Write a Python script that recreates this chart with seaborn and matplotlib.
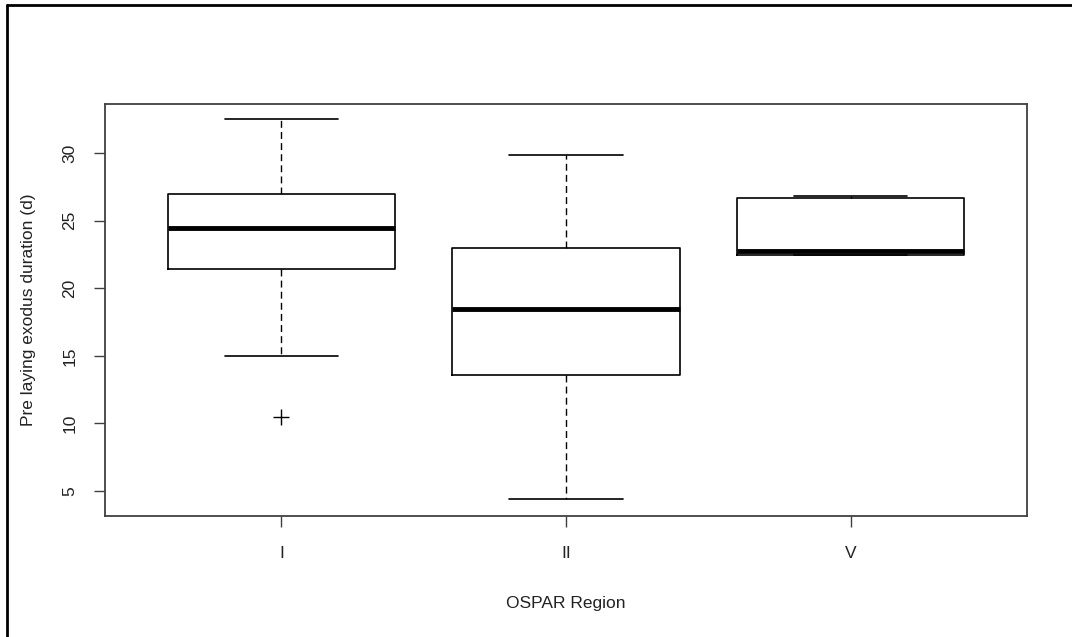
import matplotlib
matplotlib.use("Agg")
import matplotlib.pyplot as plt
import seaborn as sns
import pandas as pd
from matplotlib.lines import Line2D

# Data
regions = ["I", "II", "V"]
values_I = [10.5, 15.0, 21.4, 23.0, 24.45, 25.5, 27.0, 30.0, 32.5]
values_II = [4.4, 13.6, 18.45, 23.0, 29.85]
values_V = [22.45, 22.45, 22.75, 26.7, 26.8]
y_ticks = [5, 10, 15, 20, 25, 30]

df = pd.DataFrame({
    "region": ["I"] * len(values_I) + ["II"] * len(values_II) + ["V"] * len(values_V),
    "value": values_I + values_II + values_V,
})

sns.set_theme(style="white")
plt.rcParams["font.family"] = ["Liberation Sans", "DejaVu Sans"]

fig = plt.figure(figsize=(10.72, 6.37), dpi=100)
ax = fig.add_axes([105 / 1072, 1 - 516 / 637, (1027 - 105) / 1072, (516 - 104) / 637])

sns.boxplot(
    data=df, x="region", y="value", order=regions, ax=ax,
    fill=False, color="black", width=0.8, whis=1.5,
    linewidth=1.2,
    boxprops=dict(color="black", linewidth=1.2),
    whiskerprops=dict(color="black", linestyle=(0, (5, 3)), linewidth=1.0),
    capprops=dict(color="black", linewidth=1.2),
    medianprops=dict(color="black", linewidth=3.5, solid_capstyle="butt"),
    flierprops=dict(marker="+", markersize=11, markeredgecolor="black",
                    markeredgewidth=1.0, linestyle="none"),
    capwidths=0.4,
)

ax.set_xlim(-0.62, 2.62)
ax.set_ylim(3.15, 33.62)
ax.set_yticks(y_ticks)
ax.set_yticklabels([str(t) for t in y_ticks], rotation=90, va="center")
ax.set_xlabel("OSPAR Region", fontsize=12.5, color="#222222", labelpad=25.5)
ax.set_ylabel("Pre laying exodus duration (d)", fontsize=12.5, color="#222222", labelpad=19)

for s in ax.spines.values():
    s.set_visible(True)
    s.set_color("#404040")
    s.set_linewidth(1.3)

ax.tick_params(axis="both", which="major", direction="out", length=8, width=1.0,
               color="#404040", labelsize=12.5, labelcolor="#222222",
               left=True, bottom=True, pad=12)
ax.tick_params(axis="x", pad=13.5)

# outer frame (left and top edges of the cropped figure border)
fig.add_artist(Line2D([7 / 1072, 7 / 1072], [0, 1 - 5 / 637], transform=fig.transFigure,
                      color="black", linewidth=2))
fig.add_artist(Line2D([7 / 1072, 1], [1 - 5 / 637, 1 - 5 / 637], transform=fig.transFigure,
                      color="black", linewidth=2))

fig.savefig("out.png", dpi=100, facecolor="white")
